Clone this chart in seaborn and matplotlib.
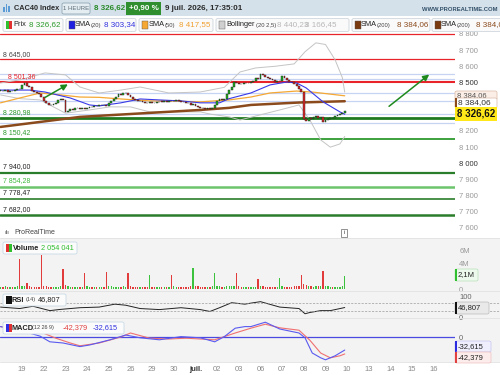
import numpy as np
import pandas as pd
import matplotlib
matplotlib.use("Agg")
import matplotlib.pyplot as plt
from matplotlib.patches import Rectangle, FancyBboxPatch
import seaborn as sns

# ---- données ----
# clôtures horaires, 9 barres par séance : 18, 19, 22, 23, 24, 25, 26, 29, 30, 01, 02, 03, 06, 07, 08, 09
closes = [
    8450, 8445, 8452, 8440, 8448, 8445, 8455, 8462, 8458,
    8485, 8497, 8480, 8470, 8448, 8440, 8432, 8428, 8410,
    8385, 8372, 8360, 8358, 8365, 8372, 8390, 8398, 8392,
    8318, 8325, 8335, 8330, 8340, 8345, 8338, 8342, 8338,
    8345, 8350, 8348, 8355, 8352, 8358, 8362, 8360, 8356,
    8375, 8388, 8400, 8412, 8428, 8420, 8432, 8436, 8425,
    8410, 8398, 8392, 8385, 8388, 8380, 8376, 8372, 8378,
    8375, 8370, 8378, 8382, 8380, 8385, 8380, 8388, 8384,
    8388, 8392, 8386, 8382, 8378, 8375, 8372, 8360, 8366,
    8355, 8350, 8345, 8342, 8338, 8340, 8336, 8345, 8360,
    8385, 8395, 8392, 8400, 8430, 8455, 8470, 8500, 8495,
    8490, 8488, 8495, 8498, 8494, 8500, 8508, 8530, 8522,
    8555, 8548, 8535, 8528, 8520, 8515, 8505, 8508, 8512,
    8540, 8528, 8515, 8505, 8500, 8490, 8480, 8460, 8440,
    8275, 8262, 8280, 8272, 8285, 8290, 8282, 8288, 8255,
    8268, 8275, 8280, 8278, 8292, 8298, 8305, 8312, 8326.62,
]

# volume en millions
volume = [
    0.35, 0.3, 0.4, 0.3, 0.35, 0.3, 0.3, 0.4, 4.6,
    0.4, 0.5, 0.9, 0.4, 0.35, 0.3, 0.3, 0.35, 5.2,
    0.45, 0.4, 0.35, 0.3, 0.3, 0.35, 0.3, 0.4, 3.1,
    0.6, 0.4, 0.35, 0.3, 0.3, 0.3, 0.35, 0.3, 2.5,
    0.4, 0.35, 0.3, 0.3, 0.3, 0.3, 0.35, 0.3, 2.6,
    0.45, 0.4, 0.35, 0.35, 0.3, 0.3, 0.4, 0.35, 2.5,
    0.4, 0.35, 0.3, 0.3, 0.3, 0.35, 0.3, 0.35, 2.2,
    0.35, 0.3, 0.3, 0.3, 0.25, 0.3, 0.3, 0.35, 2.2,
    0.4, 0.35, 0.3, 0.3, 0.3, 0.35, 0.3, 0.4, 3.2,
    0.45, 0.4, 0.35, 0.3, 0.3, 0.3, 0.35, 0.4, 2.5,
    0.5, 0.4, 0.35, 0.35, 0.4, 0.45, 0.4, 0.5, 2.5,
    0.4, 0.35, 0.3, 0.3, 0.3, 0.3, 0.3, 0.35, 1.6,
    0.5, 0.4, 0.35, 0.3, 0.3, 0.3, 0.3, 0.35, 1.7,
    0.4, 0.35, 0.3, 0.35, 0.3, 0.4, 0.5, 0.5, 2.2,
    0.8, 0.6, 0.45, 0.4, 0.35, 0.4, 0.4, 0.45, 2.8,
    0.5, 0.4, 0.35, 0.35, 0.3, 0.3, 0.35, 0.4, 2.05,
]

# indicateurs relevés à quelques barres
sma20_bar = [0, 12, 18.5, 29, 37, 41, 50, 58, 66, 75, 83, 91, 95, 104, 112, 119, 123, 127, 134, 141, 143]
sma20_val = [8453, 8453, 8441, 8404, 8361, 8355, 8374, 8398, 8392, 8386, 8374, 8374, 8400, 8435, 8485,
             8503, 8497, 8466, 8380, 8318, 8303.34]
sma50_bar = [0, 8, 16.5, 25, 33, 41, 50, 62, 70, 83, 95, 104, 112, 123, 130, 143]
sma50_val = [8374, 8404, 8435, 8423, 8410, 8408, 8398, 8386, 8386, 8380, 8392, 8410, 8435, 8447, 8440, 8417.55]
sma200_bar = [0, 33, 54, 83, 95, 104, 124, 143]
sma200_val = [8225, 8287, 8305, 8330, 8343, 8361, 8376, 8384.06]
boll_bar = [0, 8, 18.5, 27, 33, 41, 50, 58, 70, 83, 93, 99.5, 106, 114, 122, 126.5, 131, 135, 139, 142, 143]
boll_up = [8497, 8516, 8559, 8547, 8472, 8435, 8453, 8472, 8435, 8441, 8470, 8565, 8590, 8600, 8615,
           8690, 8745, 8735, 8640, 8530, 8440.23]
boll_lo_bar = [0, 8, 16.5, 27, 37, 45.5, 54, 62, 83, 87, 95, 99.5, 108, 116, 124, 128.5, 133, 137, 141, 143]
boll_lo = [8423, 8400, 8392, 8310, 8330, 8349, 8349, 8318, 8318, 8305, 8287, 8268, 8300, 8330, 8361,
           8268, 8145, 8100, 8120, 8166.45]

rsi_bar = [0, 8, 13.5, 20.5, 25, 33, 41, 47.5, 52, 58, 66, 75, 83, 87, 91, 96, 101.5, 104, 108, 116,
           124, 126.5, 128.5, 133, 137, 143]
rsi_val = [49, 42, 53, 32, 38, 46, 49, 63, 58, 42, 37, 46, 37, 28, 46, 70, 63, 68, 75, 49,
           42, 17, 23, 32, 32, 46.807]

macd_bar = [0, 8, 16.5, 20.5, 26, 33, 37, 45.5, 52, 58, 66, 75, 83, 89, 93, 97.5, 101.5, 104, 110,
            116, 124, 126.5, 129.5, 133, 135, 139, 143]
macd_val = [26, 17, 2, -12, -15, -24, -20, -7, 5, -2, -7, 1, -2, -12, 1, 22, 26, 26, 37,
            20, 10, -2, -40, -52, -57, -47, -32.615]
signal_bar = [0, 8, 16.5, 23, 29, 33, 41, 50, 54, 62, 70, 77, 83, 89, 97.5, 104, 110, 116, 124,
              128.5, 133, 137, 141, 143]
signal_val = [26, 17, 13, -3, -15, -22, -15, 0, 10, -3, -5, -3, -5, -7, 10, 22, 32, 23, 17,
              -8, -40, -52, -47, -42.379]

day_labels = ["19", "22", "23", "24", "25", "26", "29", "30", "juil.", "02",
              "03", "06", "07", "08", "09", "10", "13", "14", "15", "16"]

red_levels = [8800, 8645.00, 8501.36]
blue_levels = [8553, 8519, 8435, 8386, 8305, 8250]
green_levels = [8280.98, 8150.42, 7940.00, 7854.28, 7778.47, 7682.00]

# ---- figure ----
sns.set_theme(style="white")
plt.rcParams['font.family'] = ['Liberation Sans', 'DejaVu Sans']

W, H = 500, 375
fig = plt.figure(figsize=(5, 3.75), dpi=100)


def px_axes(x0, y0, x1, y1):
    return fig.add_axes([x0 / W, 1 - y1 / H, (x1 - x0) / W, (y1 - y0) / H])


def ftext(x, y, s, **kw):
    kw.setdefault("va", "center")
    kw.setdefault("fontsize", 5)
    kw.setdefault("zorder", 20)
    fig.text(x / W, 1 - y / H, s, **kw)


def fbox(x0, y0, x1, y1, fc, ec="none", lw=0.6, rounded=True, z=10):
    style = "round,pad=0,rounding_size=0.004" if rounded else "square,pad=0"
    fig.patches.append(FancyBboxPatch((x0 / W, 1 - y1 / H), (x1 - x0) / W, (y1 - y0) / H,
                                      boxstyle=style, fc=fc, ec=ec, lw=lw, zorder=z,
                                      transform=fig.transFigure, figure=fig))


def hline_px(y, x0=0, x1=500, color="#dddddd", lw=0.6, ls="-"):
    fig.add_artist(plt.Line2D([x0 / W, x1 / W], [1 - y / H, 1 - y / H], color=color, lw=lw, ls=ls,
                              transform=fig.transFigure, zorder=5))


# fonds
fbox(0, 0, 500, 16, "#d4e1ea", rounded=False, z=-10)
fbox(0, 238, 500, 362, "#f3f3f3", rounded=False, z=-10)

n = len(closes)
x = np.arange(n)
opens = [closes[0]] + closes[:-1]
xmin, xmax = -0.2, 188.8

# ---- panneau prix ----
ax = px_axes(0, 33, 455, 238)
ax.set_facecolor("white")
for lv in red_levels:
    ax.axhline(lv, color="#e8242a", lw=1.5 if lv == 8501.36 else 0.9, zorder=1)
for lv in blue_levels:
    ax.axhline(lv, color="#c7d3f2", lw=0.9, zorder=1)
green_cols = ["#1f7a1f", "#2e9a2e", "#2a7d2a", "#6cc46c", "#2a7d2a", "#2a7d2a"]
green_lw = [2.0, 1.3, 1.6, 1.8, 1.2, 1.8]
for lv, c, lw in zip(green_levels, green_cols, green_lw):
    ax.axhline(lv, color=c, lw=lw, zorder=1)

sns.lineplot(data=pd.DataFrame({"bar": sma200_bar, "v": sma200_val}), x="bar", y="v", ax=ax,
             color="#8b4a1c", lw=1.8, zorder=3)
sns.lineplot(data=pd.DataFrame({"bar": boll_bar, "v": boll_up}), x="bar", y="v", ax=ax,
             color="#c4c4c4", lw=0.7, zorder=2)
sns.lineplot(data=pd.DataFrame({"bar": boll_lo_bar, "v": boll_lo}), x="bar", y="v", ax=ax,
             color="#c4c4c4", lw=0.7, zorder=2)
sns.lineplot(data=pd.DataFrame({"bar": sma50_bar, "v": sma50_val}), x="bar", y="v", ax=ax,
             color="#f5a833", lw=0.9, zorder=3)
sns.lineplot(data=pd.DataFrame({"bar": sma20_bar, "v": sma20_val}), x="bar", y="v", ax=ax,
             color="#3a3ae8", lw=0.8, zorder=4)

for i in range(n):
    o, c = opens[i], closes[i]
    lo, hi = min(o, c), max(o, c)
    if hi - lo < 3:
        hi = lo + 3
    col = "#22b022" if c >= o else "#e02a2a"
    ax.add_patch(Rectangle((i - 0.38, lo), 0.76, hi - lo, fc=col, ec="#1a1a1a", lw=0.3, zorder=5))

ax.annotate("", xy=(29, 8497), xytext=(17.5, 8399),
            arrowprops=dict(arrowstyle="-|>", color="#1e8a1e", lw=1.1, mutation_scale=9), zorder=6)
ax.annotate("", xy=(179, 8560), xytext=(160.5, 8342),
            arrowprops=dict(arrowstyle="-|>", color="#1e8a1e", lw=1.1, mutation_scale=9), zorder=6)

ax.set_xlim(xmin, xmax)
ax.set_ylim(7538, 8806)
ax.set_xticks([])
ax.yaxis.tick_right()
ticks = list(range(7600, 8900, 100))
ax.set_yticks(ticks)
ax.set_yticklabels([f"{t // 1000} {t % 1000:03d}" for t in ticks], fontsize=5.5, color="#9a9a9a")
for lab, t in zip(ax.get_yticklabels(), ticks):
    if t in (8500, 8000):
        lab.set_color("#333333")
ax.tick_params(axis="y", length=0, pad=3)
ax.set_xlabel("")
ax.set_ylabel("")
for s in ax.spines.values():
    s.set_visible(False)

# étiquettes de niveaux à gauche
ftext(3, 55, "8 645,00", color="#444444")
ftext(8, 77, "8 501,36", color="#e8242a")
ftext(3, 113, "8 280,98", color="#2e9a2e")
ftext(3, 133, "8 150,42", color="#2e9a2e")
ftext(3, 167, "7 940,00", color="#222222")
ftext(3, 181, "7 854,28", color="#3cb83c")
ftext(3, 193, "7 778,47", color="#222222")
ftext(3, 210, "7 682,00", color="#222222")

# badges prix à droite (le second recouvre en partie le premier)
fbox(455, 91, 497, 100, "#fbeee6", ec="#d9b9a5", lw=0.5, z=30)
ftext(457, 96, "8 384,06", fontsize=5.5, color="#555555", zorder=31)
fbox(455, 98, 497, 108, "#ffffff", ec="#d9b9a5", lw=0.5, z=32)
fbox(455, 98, 457, 108, "#8b4a1c", rounded=False, z=33)
ftext(458, 103, "8 384,06", fontsize=6, color="#333333", zorder=34)
fbox(455, 107, 497, 121, "#ffe81a", rounded=False, z=35)
ftext(457, 114, "8 326,62", fontsize=7, color="#111111", fontweight="bold", zorder=36)

# ---- volume ----
axv = px_axes(0, 238, 455, 290)
axv.set_facecolor("#f3f3f3")
vol_cols = ["#3cc23c"] + ["#3cc23c" if closes[i] >= closes[i - 1] else "#e23b3b" for i in range(1, n)]
axv.bar(x, volume, width=0.55, color=vol_cols, linewidth=0)
axv.set_xlim(xmin, xmax)
axv.set_ylim(-0.15, 7.85)
axv.set_xticks([])
axv.yaxis.tick_right()
axv.set_yticks([0, 4, 6])
axv.set_yticklabels(["0", "4M", "6M"], fontsize=5.5, color="#9a9a9a")
axv.tick_params(axis="y", length=0, pad=3)
for s in axv.spines.values():
    s.set_visible(False)

# ---- RSI ----
axr = px_axes(0, 290, 455, 318)
axr.set_facecolor("#f3f3f3")
sns.lineplot(data=pd.DataFrame({"bar": rsi_bar, "v": rsi_val}), x="bar", y="v", ax=axr,
             color="#222222", lw=0.7)
axr.set_xlim(xmin, xmax)
axr.set_ylim(-3.4, 131)
axr.set_xticks([])
axr.yaxis.tick_right()
axr.set_yticks([0, 100])
axr.set_yticklabels(["0", "100"], fontsize=5.5, color="#666666")
axr.tick_params(axis="y", length=0, pad=3)
axr.set_xlabel("")
axr.set_ylabel("")
for s in axr.spines.values():
    s.set_visible(False)

# ---- MACD ----
axm = px_axes(0, 318, 455, 362)
axm.set_facecolor("#f3f3f3")
axm.axhline(0, color="#4a4ae0", lw=0.9)
sns.lineplot(data=pd.DataFrame({"bar": signal_bar, "v": signal_val}), x="bar", y="v", ax=axm,
             color="#f07070", lw=0.8)
sns.lineplot(data=pd.DataFrame({"bar": macd_bar, "v": macd_val}), x="bar", y="v", ax=axm,
             color="#5a5af0", lw=0.8)
axm.set_xlim(xmin, xmax)
axm.set_ylim(-62.5, 47.5)
axm.yaxis.tick_right()
axm.set_yticks([0])
axm.set_yticklabels(["0"], fontsize=5.5, color="#666666")
axm.tick_params(axis="y", length=0, pad=3)
tick_pos = [9 + 9 * k for k in range(len(day_labels))]
axm.set_xticks(tick_pos)
axm.set_xticklabels(day_labels, fontsize=5.5, color="#8a8a8a")
for lab in axm.get_xticklabels():
    if lab.get_text() == "juil.":
        lab.set_fontweight("bold")
        lab.set_color("#333333")
axm.tick_params(axis="x", length=0, pad=3)
axm.set_xlabel("")
axm.set_ylabel("")
for s in axm.spines.values():
    s.set_visible(False)

# séparateurs et lignes RSI
hline_px(237.5, color="#e2e2e2")
hline_px(290.5, color="#e2e2e2")
hline_px(317.5, color="#e2e2e2")
hline_px(362, color="#e2e2e2")
hline_px(302.7, x1=500, color="#9a9a9a", lw=0.5, ls=(0, (3, 2)))
hline_px(311.0, x1=500, color="#9a9a9a", lw=0.5, ls=(0, (3, 2)))

# badges droite des panneaux bas
fbox(455, 269, 478, 281, "#eef9ee", ec="#b8e0b8", lw=0.5)
fbox(455, 269, 457, 281, "#2fbf2f", rounded=False)
ftext(458, 275, "2,1M", fontsize=5.5, color="#222222")
fbox(455, 302, 489, 314, "#e9e9e9", ec="#bbbbbb", lw=0.5)
fbox(455, 302, 457, 314, "#111111", rounded=False)
ftext(458, 308, "46,807", fontsize=5.5, color="#222222")
fbox(455, 341, 491, 352, "#eeeefc", ec="#c5c5f0", lw=0.5)
fbox(455, 341, 457, 352, "#2a2ae0", rounded=False)
ftext(458, 346.5, "-32,615", fontsize=5.5, color="#222222")
fbox(455, 352, 491, 363, "#fcecec", ec="#f0c0c0", lw=0.5)
fbox(455, 352, 457, 363, "#e04040", rounded=False)
ftext(458, 357.5, "-42,379", fontsize=5.5, color="#222222")

# ---- en-tête ----
for i, hh in enumerate([5, 8, 6]):
    fbox(3 + i * 2.5, 12 - hh, 4.5 + i * 2.5, 12, "#5b9bd5", rounded=False)
ftext(14, 8.5, "CAC40 Index", fontsize=5.3, fontweight="bold", color="#2b2b2b")
fbox(62, 3, 90, 14, "#e4edf2", ec="#8fa7b5", lw=0.6)
ftext(76, 8.5, "1 HEURE", fontsize=4.3, color="#5a6b75", ha="center")
ftext(94, 8.5, "8 326,62", fontsize=5.8, fontweight="bold", color="#2a8a2a")
fbox(126, 2, 161, 15, "#2f8f2f", rounded=False)
ftext(143.5, 8.5, "+0,90 %", fontsize=5.8, fontweight="bold", color="white", ha="center")
ftext(165, 8.5, "9 juil. 2026, 17:35:01", fontsize=5.8, fontweight="bold", color="#2b2b2b")
ftext(498, 9.5, "WWW.PROREALTIME.COM", fontsize=4.2, fontweight="bold", color="#34506a", ha="right")


# légende
def legend_box(x0, x1, sq, parts):
    fbox(x0, 18.5, x1, 31.5, "#fafafa", ec="#cfd6dc", lw=0.6)
    if isinstance(sq, tuple):
        fbox(x0 + 2.5, 21, x0 + 5.5, 29, sq[0], rounded=False, z=11)
        fbox(x0 + 5.5, 21, x0 + 8.5, 29, sq[1], rounded=False, z=11)
    else:
        fbox(x0 + 2.5, 21, x0 + 8.5, 29, sq, ec="#555555", lw=0.3, rounded=False, z=11)
    for px, s, c, fs in parts:
        ftext(px, 25, s, color=c, fontsize=fs)


legend_box(3, 63, ("#2fbf2f", "#e03030"),
           [(13, "Prix", "#222222", 5.3), (29, "8 326,62", "#2a9a2a", 5.8)])
legend_box(66, 136, "#2020e0",
           [(75, "SMA", "#222222", 5.3), (90.5, "(20)", "#444444", 4.2),
            (104, "8 303,34", "#3030e0", 5.8)])
legend_box(139, 213, "#f5a833",
           [(149, "SMA", "#222222", 5.3), (164.5, "(50)", "#444444", 4.2),
            (179, "8 417,55", "#f0a030", 5.8)])
legend_box(216, 349, "#d0d0d0",
           [(226, "Bollinger", "#222222", 5.3), (256, "(20 2,5)", "#444444", 4.2),
            (277, "8 440,23", "#b8b8b8", 5.8), (305, "8 166,45", "#b8b8b8", 5.8)])
legend_box(352, 430, "#7a3a10",
           [(361, "SMA", "#222222", 5.3), (376.5, "(200)", "#444444", 4.2),
            (397, "8 384,06", "#8b4a1c", 5.8)])
legend_box(432, 505, "#7a3a10",
           [(441, "SMA", "#222222", 5.3), (456.5, "(200)", "#444444", 4.2),
            (476, "8 384,0", "#8b4a1c", 5.8)])

# légendes des panneaux bas
ftext(4, 233, "ılı", fontsize=4.5, color="#444444")
ftext(14, 233, "ProRealTime", fontsize=5, color="#444444")
fbox(341, 229, 347, 237, "#ffffff", ec="#666666", lw=0.5, rounded=False)
ftext(344, 233, "i", fontsize=4.5, color="#444444", ha="center")


def panel_label(x0, x1, y, sq, parts):
    fbox(x0, y - 6, x1, y + 6, "#fbfbfb", ec="#c8dbe6", lw=0.6)
    if isinstance(sq, tuple):
        fbox(x0 + 2.5, y - 4, x0 + 5.5, y + 4, sq[0], rounded=False, z=11)
        fbox(x0 + 5.5, y - 4, x0 + 8.5, y + 4, sq[1], rounded=False, z=11)
    else:
        fbox(x0 + 2.5, y - 4, x0 + 8.5, y + 4, sq, rounded=False, z=11)
    for px, s, c, fs, fw in parts:
        ftext(px, y, s, color=c, fontsize=fs, fontweight=fw)


panel_label(3, 77, 248, ("#e03030", "#2fbf2f"),
            [(13, "Volume", "#222222", 5.3, "bold"), (41, "2 054 041", "#2fbf2f", 5.3, "normal")])
panel_label(3, 66, 300, "#111111",
            [(12, "RSI", "#222222", 5.3, "bold"), (25.5, "(14)", "#444444", 4, "normal"),
             (38, "46,807", "#222222", 5.3, "normal")])
panel_label(3, 124, 328, ("#3030e0", "#e03030"),
            [(12, "MACD", "#222222", 5.3, "bold"), (32, "(12 26 9)", "#444444", 4, "normal"),
             (63, "-42,379", "#e04040", 5.3, "normal"), (93, "-32,615", "#3030e0", 5.3, "normal")])

fig.savefig("out.png", dpi=100)
